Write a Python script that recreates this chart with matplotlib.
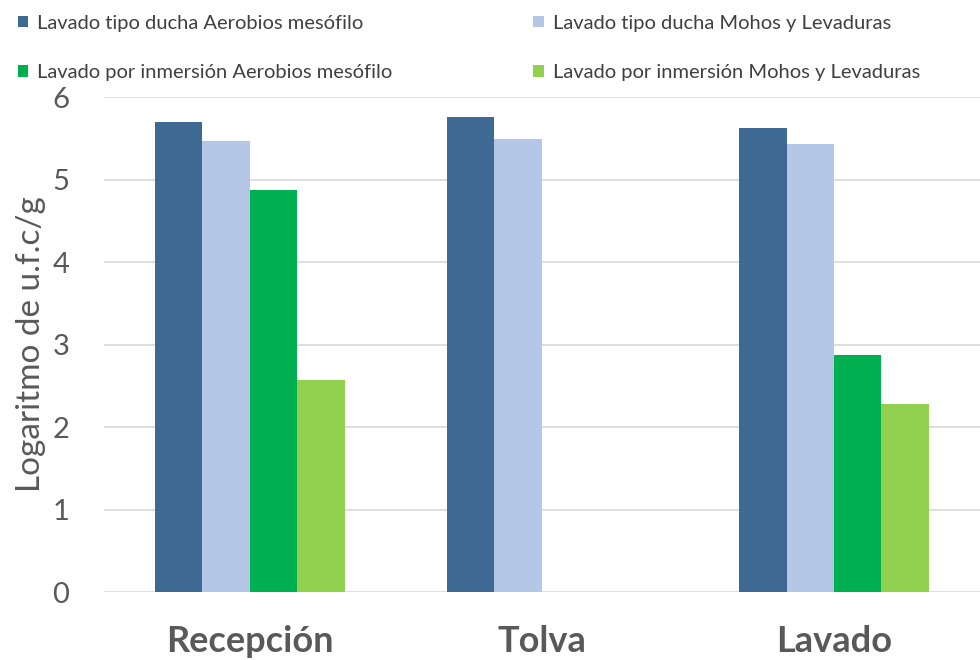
import numpy as np
import matplotlib
matplotlib.use('Agg')
import matplotlib.pyplot as plt

plt.rcParams['font.family'] = ['Lato', 'DejaVu Sans']

# Data
categories = ['Recepción', 'Tolva', 'Lavado']
series_names = ['Lavado tipo ducha Aerobios mesófilo',
                'Lavado tipo ducha Mohos y Levaduras',
                'Lavado por inmersión Aerobios mesófilo',
                'Lavado por inmersión Mohos y Levaduras']
ducha_aerobios = [5.70, 5.76, 5.62]
ducha_mohos = [5.47, 5.49, 5.43]
inmersion_aerobios = [4.87, np.nan, 2.87]
inmersion_mohos = [2.57, np.nan, 2.28]
colors = ['#3D6993', '#B4C7E7', '#00B050', '#92D050']

series = [ducha_aerobios, ducha_mohos, inmersion_aerobios, inmersion_mohos]

fig = plt.figure(figsize=(9.8, 6.6), dpi=100)
ax = fig.add_axes([0.106, 0.103, 0.894, 0.750])

x = np.arange(len(categories))
w = 0.1625
bars = []
for i, (vals, name, c) in enumerate(zip(series, series_names, colors)):
    bars.append(ax.bar(x + (i - 1.5) * w, vals, w, color=c, label=name))

ax.set_xlim(-0.5, 2.5)
ax.set_ylim(0, 6)
ax.set_yticks(range(7))
ax.yaxis.grid(True, color='#D9D9D9', linewidth=1.2)
ax.set_axisbelow(True)
for s in ax.spines.values():
    s.set_visible(False)
ax.tick_params(axis='both', length=0)
ax.tick_params(axis='y', labelsize=21, labelcolor='#595959', pad=25)
ax.set_xticks(x)
ax.set_xticklabels(categories, fontsize=26, fontweight='bold', color='#595959')
ax.tick_params(axis='x', pad=24)
ax.set_ylabel('Logaritmo de u.f.c/g', fontsize=24, color='#595959')
ax.yaxis.set_label_coords(-0.066, 0.5)

# legend filled row by row, as in the reference
order = [0, 2, 1, 3]
fig.legend([bars[i] for i in order], [series_names[i] for i in order],
           loc='upper left', bbox_to_anchor=(0.0, 1.005), ncol=2, frameon=False,
           fontsize=14.5, labelcolor='#404040', handlelength=0.5, handleheight=0.5,
           handletextpad=0.45, labelspacing=1.6, columnspacing=7.0)

fig.savefig('out.png', dpi=100)
